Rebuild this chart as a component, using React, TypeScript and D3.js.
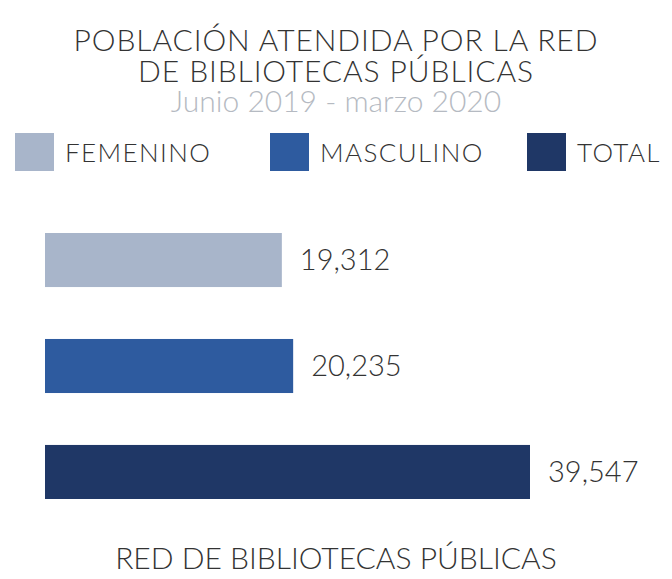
import * as d3 from "d3";
import React, { useEffect, useRef } from "react";

// datos
const categories = ["FEMENINO", "MASCULINO", "TOTAL"];
const values = [19312, 20235, 39547];
const colors = ["#a8b5ca", "#2e5b9f", "#1f3766"];
const titleLines = ["POBLACIÓN ATENDIDA POR LA RED", "DE BIBLIOTECAS PÚBLICAS"];
const subtitle = "Junio 2019 - marzo 2020";
const footer = "RED DE BIBLIOTECAS PÚBLICAS";

const width = 672,
  height = 579;

export default function App() {
  const ref = useRef<SVGSVGElement>(null);

  useEffect(() => {
    const svg = d3.select(ref.current);
    svg.selectAll("*").remove();
    const font = "Lato, 'Open Sans', sans-serif";

    svg.append("rect").attr("width", width).attr("height", height).attr("fill", "#fff");

    // titulo
    svg.selectAll(".title")
      .data(titleLines)
      .enter().append("text")
      .attr("class", "title")
      .attr("x", width / 2)
      .attr("y", (d, i) => 51 + i * 31)
      .attr("text-anchor", "middle")
      .attr("font-family", font)
      .attr("font-weight", 300)
      .attr("font-size", "30px")
      .attr("letter-spacing", "0.9px")
      .attr("fill", "#333")
      .text(d => d);

    svg.append("text")
      .attr("x", width / 2)
      .attr("y", 112)
      .attr("text-anchor", "middle")
      .attr("font-family", font)
      .attr("font-weight", 300)
      .attr("font-size", "30px")
      .attr("fill", "#b5bac2")
      .text(subtitle);

    // leyenda
    const legendX = [15, 270, 527];
    const legend = svg.selectAll(".legend")
      .data(categories)
      .enter().append("g")
      .attr("class", "legend")
      .attr("transform", (d, i) => "translate(" + legendX[i] + ",133)");
    legend.append("rect")
      .attr("width", 39)
      .attr("height", 38)
      .attr("fill", (d, i) => colors[i]);
    legend.append("text")
      .attr("x", 50)
      .attr("y", 29)
      .attr("font-family", font)
      .attr("font-weight", 300)
      .attr("font-size", "26px")
      .attr("letter-spacing", "1.4px")
      .attr("fill", "#333")
      .text(d => d);

    // barras
    const xScale = d3.scaleLinear()
      .domain([0, d3.max(values) as number])
      .range([45, 530]);
    const yScale = d3.scaleBand()
      .domain(categories)
      .range([233, 499])
      .paddingInner(0.49)
      .paddingOuter(0);

    const bar = svg.selectAll(".bar")
      .data(values)
      .enter().append("g")
      .attr("class", "bar");

    bar.append("rect")
      .attr("x", xScale(0))
      .attr("y", (d, i) => yScale(categories[i]) as number)
      .attr("width", d => xScale(d) - xScale(0))
      .attr("height", yScale.bandwidth())
      .attr("fill", (d, i) => colors[i]);

    bar.append("text")
      .attr("x", d => xScale(d) + 18)
      .attr("y", (d, i) => (yScale(categories[i]) as number) + yScale.bandwidth() / 2)
      .attr("dy", "0.35em")
      .attr("font-family", font)
      .attr("font-weight", 300)
      .attr("font-size", "29px")
      .attr("fill", "#333")
      .text(d => d3.format(",")(d));

    svg.append("text")
      .attr("x", width / 2)
      .attr("y", 569)
      .attr("text-anchor", "middle")
      .attr("font-family", font)
      .attr("font-weight", 300)
      .attr("font-size", "30px")
      .attr("fill", "#333")
      .text(footer);
  }, []);

  return (
    <svg
      ref={ref}
      width={width}
      height={height}
      style={{ position: "absolute", left: 0, top: 0, display: "block" }}
    />
  );
}
